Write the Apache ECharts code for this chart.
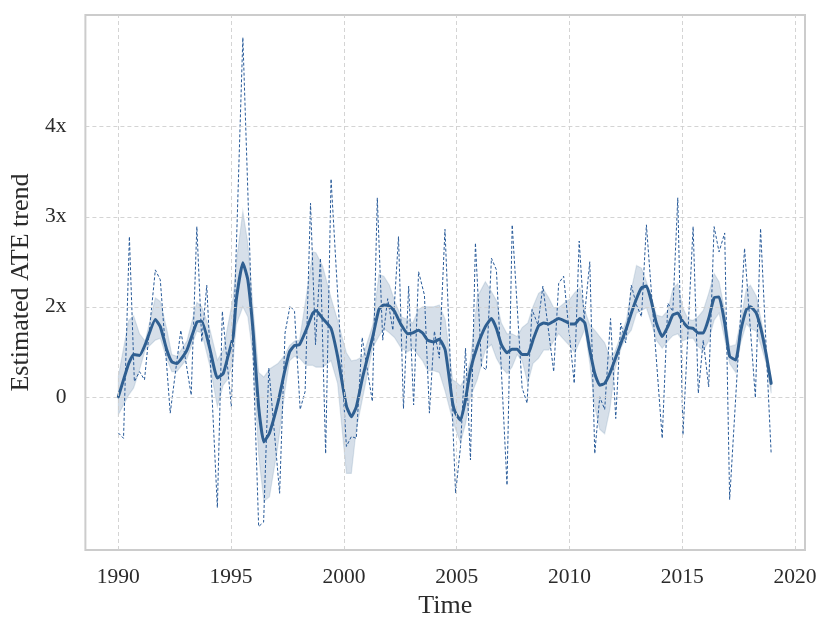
<!DOCTYPE html>
<html>
<head>
<meta charset="utf-8">
<script src="https://cdn.jsdelivr.net/npm/echarts@6/dist/echarts.min.js"></script>
<style>
html,body{margin:0;padding:0;background:#fff;}
#chart{width:830px;height:634px;}
</style>
</head>
<body>
<div id="chart"></div>
<script>
// Raw (dashed) series: time in years, value
const rawT = [1990.00,1990.23,1990.49,1990.71,1990.94,1991.16,1991.64,1991.86,1992.30,1992.77,1993.23,1993.48,1993.70,1993.92,1994.39,1994.61,1995.01,1995.52,1996.22,1996.44,1996.67,1997.15,1997.39,1997.61,1997.81,1998.06,1998.28,1998.52,1998.74,1998.96,1999.19,1999.43,2000.11,2000.33,2000.55,2000.81,2001.26,2001.48,2001.72,2001.94,2002.17,2002.42,2002.64,2002.87,2003.09,2003.31,2003.57,2003.79,2004.01,2004.23,2004.48,2004.95,2005.17,2005.39,2005.61,2005.83,2006.10,2006.31,2006.54,2006.76,2007.23,2007.46,2007.90,2008.12,2008.34,2008.60,2008.82,2009.30,2009.52,2009.74,2010.21,2010.43,2010.65,2010.90,2011.12,2011.34,2011.56,2011.82,2012.05,2012.27,2012.49,2012.74,2012.97,2013.19,2013.41,2014.11,2014.36,2014.58,2014.80,2015.03,2015.48,2015.71,2015.93,2016.17,2016.41,2016.63,2016.88,2017.10,2017.76,2018.24,2018.47,2018.94];
const rawV = [-0.40,-0.46,1.78,0.17,0.28,0.19,1.41,1.30,-0.18,0.74,0.02,1.89,0.61,1.24,-1.23,0.95,-0.11,3.99,-1.44,-1.39,0.32,-1.07,0.71,1.01,0.95,-0.14,0.06,2.15,0.58,1.54,-0.63,2.42,-0.55,-0.44,-0.46,0.66,-0.05,2.21,0.63,1.09,0.74,1.78,-0.13,1.23,-0.09,1.39,1.13,-0.18,0.73,0.43,1.86,-1.07,-0.55,0.54,-0.70,1.71,0.34,0.30,1.54,1.41,-0.98,1.91,0.10,-0.07,0.97,0.80,1.23,0.28,1.26,1.34,0.15,1.73,0.86,1.50,-0.63,0.00,-0.14,0.87,-0.24,0.82,0.60,1.24,1.02,0.89,1.91,-0.46,1.04,0.95,2.21,-0.42,1.89,0.04,0.63,0.11,1.89,1.61,1.82,-1.14,1.65,-0.01,1.87,-0.63];

// Smoothed trend with its band
const trendT = [1990.00,1990.46,1990.68,1990.94,1991.19,1991.64,1991.86,1992.15,1992.37,1992.59,1993.04,1993.48,1993.70,1994.07,1994.39,1994.65,1994.86,1995.09,1995.23,1995.52,1995.74,1995.97,1996.22,1996.45,1996.70,1997.07,1997.37,1997.59,1997.81,1998.03,1998.32,1998.62,1998.76,1999.06,1999.43,1999.72,2000.11,2000.33,2000.55,2000.84,2001.28,2001.55,2001.77,2002.02,2002.24,2002.54,2002.83,2003.05,2003.30,2003.49,2003.71,2003.98,2004.23,2004.49,2004.82,2004.95,2005.17,2005.39,2005.61,2005.91,2006.27,2006.54,2006.76,2006.98,2007.23,2007.45,2007.68,2007.90,2008.15,2008.38,2008.63,2008.86,2009.08,2009.30,2009.52,2009.81,2010.03,2010.24,2010.46,2010.68,2010.90,2011.12,2011.34,2011.56,2011.79,2012.01,2012.30,2012.52,2012.74,2012.97,2013.19,2013.41,2013.63,2013.85,2014.11,2014.36,2014.58,2014.80,2015.01,2015.26,2015.48,2015.70,2015.93,2016.17,2016.41,2016.63,2016.88,2017.10,2017.37,2017.59,2017.84,2018.02,2018.28,2018.50,2018.72,2018.94];
const trendV = [0.00,0.37,0.47,0.46,0.58,0.86,0.78,0.52,0.39,0.37,0.52,0.83,0.84,0.52,0.21,0.26,0.45,0.67,1.08,1.49,1.30,0.74,-0.11,-0.50,-0.40,-0.07,0.28,0.50,0.57,0.58,0.74,0.93,0.96,0.87,0.76,0.45,-0.10,-0.22,-0.11,0.23,0.67,0.97,1.02,1.01,0.95,0.80,0.70,0.71,0.74,0.71,0.63,0.61,0.64,0.52,-0.07,-0.18,-0.26,-0.03,0.30,0.56,0.78,0.87,0.76,0.58,0.49,0.53,0.53,0.47,0.47,0.63,0.79,0.82,0.81,0.84,0.87,0.84,0.81,0.81,0.87,0.82,0.52,0.26,0.13,0.15,0.26,0.41,0.61,0.76,0.93,1.09,1.21,1.23,1.06,0.82,0.67,0.78,0.91,0.93,0.84,0.77,0.76,0.71,0.71,0.87,1.10,1.11,0.82,0.45,0.41,0.73,0.97,1.00,0.93,0.74,0.47,0.15];
const bandLo = [-0.20,0.02,0.10,0.30,0.52,0.63,0.65,0.42,0.28,0.28,0.42,0.73,0.71,0.33,-0.11,0.13,0.20,0.40,0.80,1.00,0.89,0.45,-0.65,-1.16,-1.11,-0.55,0.04,0.40,0.45,0.43,0.35,0.35,0.33,0.33,0.40,0.15,-0.85,-0.85,-0.36,0.00,0.55,0.67,0.76,0.71,0.66,0.54,0.50,0.54,0.46,0.40,0.29,0.29,0.27,0.06,-0.26,-0.36,-0.51,-0.30,0.00,0.19,0.52,0.58,0.43,0.33,0.26,0.33,0.47,0.40,0.15,0.37,0.43,0.52,0.52,0.62,0.70,0.62,0.56,0.49,0.62,0.75,0.37,-0.11,-0.36,-0.41,-0.14,0.30,0.55,0.67,0.74,0.93,0.96,0.99,0.82,0.63,0.54,0.62,0.68,0.70,0.62,0.65,0.65,0.56,0.51,0.62,0.85,0.93,0.64,0.37,0.27,0.60,0.81,0.76,0.73,0.56,0.37,0.04];
const bandHi = [0.23,0.85,0.90,0.70,0.62,1.10,1.06,0.75,0.47,0.45,0.62,1.05,1.00,0.74,0.41,0.52,0.80,1.10,1.50,2.06,1.71,1.00,0.27,0.22,0.31,0.37,0.46,0.57,0.62,0.63,1.10,1.61,1.60,1.45,1.10,0.85,0.49,0.40,0.41,0.45,0.80,1.36,1.34,1.24,1.07,0.89,0.86,0.82,0.97,1.00,1.00,1.00,1.02,0.86,0.19,0.17,0.12,0.22,0.41,1.11,1.28,1.17,1.07,0.82,0.70,0.70,0.67,0.77,0.82,1.00,1.15,1.19,1.10,0.99,0.99,1.05,1.09,1.16,1.21,0.96,0.80,0.74,0.67,0.60,0.44,0.50,0.70,0.85,1.19,1.46,1.43,1.28,1.11,0.91,0.89,0.96,1.20,1.26,1.00,0.86,0.85,0.89,0.96,1.15,1.37,1.28,0.96,0.56,0.58,0.85,1.20,1.24,1.12,0.85,0.54,0.20];

// Axis ticks
const xTicks = [1990,1995,2000,2005,2010,2015,2020];
const yTickVals = [0,1,2,3];
const yTickLabels = ['0','2x','3x','4x'];

const FONT = '"Liberation Serif", "DejaVu Serif", serif';
const chart = echarts.init(document.getElementById('chart'), null, {renderer:'canvas'});

const zip = (a,b) => a.map((t,i)=>[t,b[i]]);
const gridLines = xTicks.map(v=>({xAxis:v})).concat(yTickVals.map(v=>({yAxis:v})));

function renderBand(params, api){
  const pts = [];
  for (let i=0;i<trendT.length;i++) pts.push(api.coord([trendT[i], bandHi[i]]));
  for (let i=trendT.length-1;i>=0;i--) pts.push(api.coord([trendT[i], bandLo[i]]));
  return {
    type:'polygon',
    shape:{points:pts, smooth:0},
    style:{fill:'rgba(48,96,143,0.2)', stroke:'rgba(48,96,143,0.14)', lineWidth:1.2}
  };
}

chart.setOption({
  animation:false,
  backgroundColor:'#ffffff',
  grid:{left:85,top:15,right:25,bottom:84,show:true,borderColor:'#cccccc',borderWidth:2,backgroundColor:'transparent'},
  xAxis:{
    type:'value', min:1988.54, max:2020.44,
    axisLine:{show:false}, axisTick:{show:false}, splitLine:{show:false},
    axisLabel:{customValues:xTicks, fontFamily:FONT, fontSize:21.5, color:'#2b2b2b', margin:16,
      formatter:function(v){return String(v);}},
    name:'Time', nameLocation:'middle', nameGap:42,
    nameTextStyle:{fontFamily:FONT, fontSize:26, color:'#2b2b2b'}
  },
  yAxis:{
    type:'value', min:-1.7, max:4.24,
    axisLine:{show:false}, axisTick:{show:false}, splitLine:{show:false},
    axisLabel:{customValues:yTickVals, fontFamily:FONT, fontSize:21.5, color:'#2b2b2b', margin:19,
      formatter:function(v){const i=yTickVals.indexOf(v);return i>=0?yTickLabels[i]:'';}},
    name:'Estimated ATE trend', nameLocation:'middle', nameGap:48,
    nameTextStyle:{fontFamily:FONT, fontSize:26, color:'#2b2b2b'}
  },
  series:[
    {
      type:'line', name:'grid', data:[], symbol:'none', z:0,
      markLine:{silent:true, symbol:'none', label:{show:false},
        lineStyle:{type:[4,3], color:'#cfcfcf', width:0.9}, data:gridLines, animation:false}
    },
    {
      type:'custom', name:'band', renderItem:renderBand, data:[[trendT[0], trendV[0]]], z:1, silent:true
    },
    {
      type:'line', name:'raw', data:zip(rawT,rawV), symbol:'none', z:3,
      lineStyle:{width:1, type:[3,2], color:'#275a99'}
    },
    {
      type:'line', name:'trend', data:zip(trendT,trendV), symbol:'none', z:4, smooth:0.15,
      lineStyle:{width:3, color:'#2f5f91', cap:'round', join:'round'}
    }
  ]
});
</script>
</body>
</html>
